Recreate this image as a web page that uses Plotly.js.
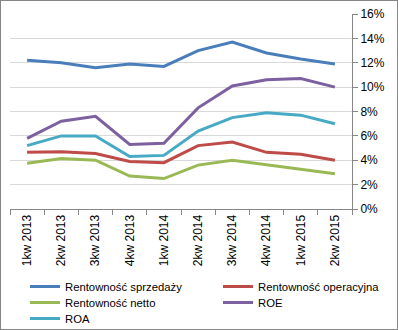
<!DOCTYPE html>
<html><head><meta charset="utf-8">
<script src="https://cdn.plot.ly/plotly-3.0.1.min.js"></script>
<style>
html,body{margin:0;padding:0;background:#fff;}
#wrap{width:398px;height:330px;box-sizing:border-box;border:1px solid #868686;}
#chart{width:396px;height:328px;}
</style></head><body>
<div id="wrap"><div id="chart"></div></div>
<script>
const categories = ["1kw 2013","2kw 2013","3kw 2013","4kw 2013","1kw 2014","2kw 2014","3kw 2014","4kw 2014","1kw 2015","2kw 2015"];
const seriesNames = ["Rentowność sprzedaży","Rentowność operacyjna","Rentowność netto","ROE","ROA"];
const sprzedazy = [12.2,12.0,11.6,11.9,11.7,13.0,13.7,12.8,12.3,11.9];
const operacyjna = [4.65,4.7,4.55,3.9,3.8,5.2,5.5,4.65,4.5,4.0];
const netto = [3.75,4.15,4.0,2.7,2.5,3.6,4.0,3.65,3.25,2.9];
const roe = [5.8,7.2,7.6,5.3,5.4,8.3,10.1,10.6,10.7,10.0];
const roa = [5.2,6.0,6.0,4.3,4.4,6.4,7.5,7.9,7.7,7.0];
const yTicks = [0,2,4,6,8,10,12,14,16];
const colors = ["#4A7EBB","#BE4B48","#98B954","#7D60A0","#46AAC5"];
const allSeries = [sprzedazy, operacyjna, netto, roe, roa];
const legendIds = ["legend","legend2","legend3","legend4","legend5"];

const traces = allSeries.map((vals,i)=>({
  type:"scatter", mode:"lines", x:categories, y:vals.map(v=>v/100),
  name:seriesNames[i], line:{color:colors[i], width:3}, hoverinfo:"skip",
  legend:legendIds[i]
}));

const font = {family:"Liberation Sans, Arial, sans-serif", size:12, color:"#000"};
const legendFont = {family:"Liberation Sans, Arial, sans-serif", size:11.3, color:"#000"};
const legendBase = {orientation:"v", xref:"container", yref:"container", xanchor:"left", yanchor:"top",
  font:legendFont, tracegroupgap:0, itemwidth:30, bgcolor:"rgba(0,0,0,0)", borderwidth:0};
// legend slot positions (container px): two columns, three rows
const colX = [24, 217, 24, 217, 24];
const rowY = [271, 271, 287, 287, 303];

const layout = {
  width:396, height:328,
  margin:{l:9, r:45, t:13, b:120, autoexpand:false},
  paper_bgcolor:"#fff", plot_bgcolor:"#fff",
  font:font, showlegend:true,
  xaxis:{type:"category", tickangle:-90, tickson:"boundaries", ticks:"outside", ticklen:5,
    tickcolor:"#868686", showline:true, linecolor:"#868686", linewidth:1, showgrid:false,
    tickfont:font, range:[-0.5,9.5], fixedrange:true},
  yaxis:{side:"right", range:[0,0.16], tickvals:yTicks.map(v=>v/100), ticktext:yTicks.map(v=>v+"%"),
    ticks:"outside", ticklen:5, tickcolor:"#868686", showline:true, linecolor:"#868686", linewidth:1,
    showgrid:true, gridcolor:"#D9D9D9", gridwidth:1, zeroline:false, tickfont:font, fixedrange:true}
};
legendIds.forEach((id,i)=>{
  layout[id] = Object.assign({}, legendBase, {x:colX[i]/396, y:1-rowY[i]/328});
});
Plotly.newPlot("chart", traces, layout, {displayModeBar:false, staticPlot:true});
</script>
</body></html>
